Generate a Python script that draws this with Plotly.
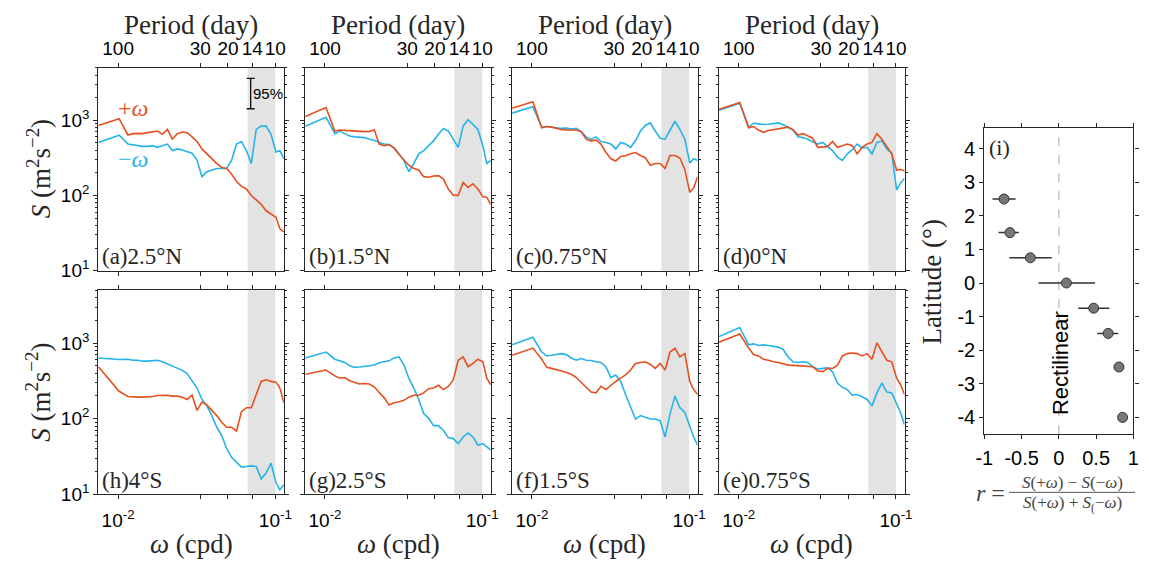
import plotly.graph_objects as go

W, H = 1149, 571

# ---------------- data ----------------
# frequency grid (cpd) shared by all spectra
FREQ = [0.00749, 0.01015, 0.01155, 0.01242, 0.01335, 0.01435, 0.01543, 0.01658, 0.01782,
        0.01916, 0.02059, 0.02213, 0.02380, 0.02558, 0.02749, 0.02955, 0.03178, 0.03415,
        0.03671, 0.03946, 0.04243, 0.04560, 0.04902, 0.05269, 0.05665, 0.06089, 0.06545,
        0.07035, 0.07562, 0.08129, 0.08738, 0.09393, 0.1010, 0.1069, 0.1133]

# S(+omega) (red) and S(-omega) (blue), m^2 s^-2
A_POS = [853, 1051, 638, 665, 671, 665, 685, 706, 720, 651, 756, 561, 665, 699, 685, 602, 523, 416,
         358, 308, 266, 236, 229, 193, 153, 132, 122, 100, 88.7, 76.4, 62.6, 56.6, 51.3, 36.2, 32.7]
A_NEG = [508, 632, 483, 469, 460, 450, 450, 460, 437, 460, 483, 396, 416, 404, 388, 365, 293, 178,
         207, 218, 229, 229, 229, 293, 483, 523, 396, 266, 756, 836, 836, 651, 376, 396, 308]
B_POS = [1127, 1476, 720, 742, 734, 727, 720, 706, 706, 713, 742, 483, 460, 473, 429, 351, 293, 253,
         229, 218, 178, 175, 182, 184, 165, 122, 101, 100, 149, 128, 143, 122, 96, 95, 76]
B_NEG = [836, 1094, 665, 720, 665, 620, 602, 589, 589, 561, 544, 508, 483, 478, 429, 358, 293, 207,
         266, 358, 396, 460, 533, 651, 780, 720, 561, 437, 836, 1020, 878, 756, 460, 266, 293]
C_POS = [1445, 1764, 795, 827, 811, 780, 756, 742, 749, 742, 706, 561, 533, 544, 483, 376, 308, 288,
         331, 337, 358, 373, 341, 318, 253, 266, 266, 229, 341, 341, 315, 222, 110, 126, 178]
C_NEG = [1245, 1520, 811, 827, 811, 787, 780, 787, 764, 780, 706, 602, 556, 602, 523, 508, 483, 416,
         508, 483, 437, 533, 720, 853, 923, 720, 578, 561, 756, 971, 756, 561, 271, 308, 293]
D_POS = [1403, 1730, 795, 827, 742, 692, 734, 756, 772, 795, 811, 749, 638, 665, 614, 578, 437, 437,
         446, 523, 437, 460, 483, 460, 358, 437, 483, 508, 665, 561, 446, 358, 218, 222, 213]
D_NEG = [1362, 1680, 811, 914, 896, 878, 887, 896, 923, 870, 795, 742, 602, 589, 561, 523, 483, 508,
         455, 396, 324, 293, 358, 404, 483, 429, 437, 358, 508, 533, 416, 365, 119, 146, 170]
H_POS = [488, 231, 197, 193, 193, 193, 193, 197, 203, 205, 205, 199, 199, 193, 180, 205, 129, 166,
         152, 129, 110, 89.7, 77.1, 77.1, 68.5, 124, 140, 140, 213, 312, 327, 312, 305, 255, 163]
H_NEG = [638, 608, 614, 595, 595, 578, 578, 584, 595, 567, 533, 493, 464, 437, 396, 318, 255, 180,
         148, 110, 77.1, 60.1, 40.4, 30.8, 26.3, 22.9, 23.3, 23.8, 23.3, 16.0, 19.1, 25.8, 14.2, 11.5, 13.4]
G_POS = [388, 441, 369, 344, 351, 318, 302, 288, 293, 288, 263, 226, 189, 152, 163, 168, 175, 193,
         205, 205, 220, 250, 255, 277, 243, 268, 327, 595, 658, 488, 539, 614, 567, 344, 282]
G_NEG = [638, 764, 614, 578, 556, 503, 478, 483, 498, 503, 513, 550, 567, 584, 638, 658, 513, 344,
         255, 180, 117, 102, 81.1, 81.1, 69.8, 56.2, 54.6, 46.9, 57.4, 64.6, 57.4, 44.6, 46.9, 42.5, 38.5]
F_POS = [692, 861, 614, 478, 464, 450, 429, 408, 388, 351, 305, 268, 226, 220, 268, 243, 277, 312,
         344, 380, 441, 539, 556, 567, 523, 464, 539, 441, 764, 861, 658, 727, 312, 243, 209]
F_NEG = [951, 1197, 764, 678, 692, 706, 727, 706, 638, 595, 626, 595, 589, 567, 556, 488, 351, 380,
         312, 209, 143, 99.0, 110, 104, 99.0, 99.0, 94.3, 57.4, 115, 199, 140, 121, 81.1, 57.4, 44.6]
E_POS = [1030, 1322, 861, 706, 678, 614, 595, 567, 556, 528, 513, 508, 503, 493, 498, 488, 429, 420,
         464, 464, 513, 678, 727, 742, 727, 678, 727, 614, 1010, 764, 595, 567, 344, 282, 209]
E_NEG = [1221, 1614, 951, 980, 933, 951, 933, 905, 887, 827, 658, 567, 556, 567, 556, 488, 455, 464,
         473, 420, 296, 261, 243, 205, 209, 195, 180, 148, 220, 296, 226, 220, 155, 121, 83.5]

# panel order: top row a-d, bottom row h, g, f, e
PANEL_LABELS = ["(a)2.5°N", "(b)1.5°N", "(c)0.75°N", "(d)0°N",
                "(h)4°S", "(g)2.5°S", "(f)1.5°S", "(e)0.75°S"]
PANEL_POS = [A_POS, B_POS, C_POS, D_POS, H_POS, G_POS, F_POS, E_POS]
PANEL_NEG = [A_NEG, B_NEG, C_NEG, D_NEG, H_NEG, G_NEG, F_NEG, E_NEG]

PERIOD_DAYS = [100, 30, 20, 14, 10]
PERIOD_LABELS = ["100", "30", "20", "14", "10"]
BAND_PERIODS = [15, 10]          # shaded band (days)
CI_FREQ, CI_TOP, CI_BOTTOM = 0.0697, 3606, 1425   # 95% confidence bar

# panel (i)
LATS = [2.5, 1.5, 0.75, 0, -0.75, -1.5, -2.5, -4]
R_VAL = [-0.736, -0.656, -0.383, 0.101, 0.467, 0.661, 0.806, 0.855]
R_LO = [-0.89, -0.81, -0.665, -0.273, 0.26, 0.515, 0.753, 0.806]
R_HI = [-0.58, -0.537, -0.097, 0.485, 0.678, 0.797, 0.868, 0.916]

# ---------------- style ----------------
RED = "#E5501E"
BLUE = "#25B3E8"
AX = "#262626"
SERIF = "Liberation Serif"
SANS = "Liberation Sans"


def px(x):
    return x / W


def py(y):
    return 1 - y / H


PANEL_LEFT = [90.7, 300.7, 510.7, 720.7]
PANEL_W = 188.3
ROW_TOP = [69, 296]
ROW_BOT = [276, 504]

fig = go.Figure()
layout = dict(width=W, height=H, margin=dict(l=0, r=0, t=0, b=0), showlegend=False,
              paper_bgcolor="white", plot_bgcolor="white",
              font=dict(family=SANS, color="black", size=19))
annotations = []
shapes = []

period_freq = [1.0 / p for p in PERIOD_DAYS]
minor_vals = [m * 10 ** e for e in (1, 2, 3) for m in range(2, 10)]

for k in range(8):
    row, col = divmod(k, 4)
    i = k + 1
    xn = "x" if i == 1 else f"x{i}"
    yn = "y" if i == 1 else f"y{i}"
    left = PANEL_LEFT[col]
    fig.add_trace(go.Scatter(x=[1.0 / BAND_PERIODS[0], 1.0 / BAND_PERIODS[1], 1.0 / BAND_PERIODS[1],
                                1.0 / BAND_PERIODS[0], 1.0 / BAND_PERIODS[0]],
                             y=[1, 1, 1e5, 1e5, 1], fill="toself", fillcolor="#E3E3E3",
                             line=dict(width=0), mode="lines", xaxis=xn, yaxis=yn,
                             hoverinfo="skip"))
    fig.add_trace(go.Scatter(x=FREQ, y=PANEL_NEG[k], mode="lines", line=dict(color=BLUE, width=1.6),
                             xaxis=xn, yaxis=yn))
    fig.add_trace(go.Scatter(x=FREQ, y=PANEL_POS[k], mode="lines", line=dict(color=RED, width=1.6),
                             xaxis=xn, yaxis=yn))
    if row == 0:
        ttext = PERIOD_LABELS
        side = "top"
        standoff = 0
    else:
        ttext = ["10<sup>-2</sup>", "", "", "", "10<sup>-1</sup>"]
        side = "bottom"
        standoff = 5
    layout["xaxis" if i == 1 else f"xaxis{i}"] = dict(
        type="log", range=[-2.1255, -0.9456], domain=[px(left), px(left + PANEL_W)],
        anchor=yn, side=side, tickmode="array", tickvals=period_freq, ticktext=ttext,
        ticks="outside", ticklen=4, tickwidth=1, tickcolor=AX, mirror="ticks", showline=True,
        linecolor=AX, linewidth=1.3, showgrid=False, zeroline=False, tickangle=0,
        ticklabelstandoff=standoff,
        tickfont=dict(family=SANS, size=19, color="black"))
    layout["yaxis" if i == 1 else f"yaxis{i}"] = dict(
        type="log", range=[1, 3.7], domain=[py(ROW_BOT[row]), py(ROW_TOP[row])], anchor=xn,
        tickmode="array", tickvals=[10, 100, 1000],
        ticktext=["10<sup>1</sup>", "10<sup>2</sup>", "10<sup>3</sup>"],
        showticklabels=(col == 0), ticks="outside", ticklen=4, tickwidth=1, tickcolor=AX,
        minor=dict(ticks="outside", ticklen=2, tickcolor=AX, tickmode="array", tickvals=minor_vals),
        mirror="ticks", showline=True, linecolor=AX, linewidth=1.3, showgrid=False, zeroline=False,
        tickfont=dict(family=SANS, size=19, color="black"))
    cx = left + PANEL_W / 2
    annotations.append(dict(text=PANEL_LABELS[k], x=px(left + 2), y=py(ROW_BOT[row] - 14),
                            xref="paper", yref="paper", xanchor="left", yanchor="middle",
                            showarrow=False, font=dict(family=SERIF, size=23, color=AX)))
    if row == 0:
        annotations.append(dict(text="Period (day)", x=px(cx), y=py(26), xref="paper", yref="paper",
                                xanchor="center", yanchor="middle", showarrow=False,
                                font=dict(family=SERIF, size=27, color=AX)))
    else:
        annotations.append(dict(text="<i>ω</i> (cpd)", x=px(cx), y=py(555), xref="paper", yref="paper",
                                xanchor="center", yanchor="middle", showarrow=False,
                                font=dict(family=SERIF, size=27, color=AX)))

# 95% confidence bar in panel (a)
ci_center = (CI_TOP * CI_BOTTOM) ** 0.5
fig.add_trace(go.Scatter(x=[CI_FREQ], y=[ci_center], mode="markers", marker=dict(size=1, opacity=0),
                         error_y=dict(type="data", symmetric=False, array=[CI_TOP - ci_center],
                                      arrayminus=[ci_center - CI_BOTTOM], color="#111",
                                      thickness=1.3, width=4),
                         xaxis="x", yaxis="y"))
annotations.append(dict(text="95%", x=px(246), y=py(95), xref="paper", yref="paper",
                        xanchor="left", yanchor="middle", showarrow=False,
                        font=dict(family=SANS, size=15, color="black")))
annotations.append(dict(text="+<i>ω</i>", x=px(126), y=py(110), xref="paper", yref="paper",
                        xanchor="center", yanchor="middle", showarrow=False,
                        font=dict(family=SERIF, size=24, color=RED)))
annotations.append(dict(text="−<i>ω</i>", x=px(126), y=py(162), xref="paper", yref="paper",
                        xanchor="center", yanchor="middle", showarrow=False,
                        font=dict(family=SERIF, size=24, color=BLUE)))

# S axis titles
for yc in (172, 400):
    annotations.append(dict(text="<i>S</i> (m<sup>2</sup>s<sup>−2</sup>)", x=px(30), y=py(yc),
                            xref="paper", yref="paper", xanchor="center", yanchor="middle",
                            textangle=-90, showarrow=False,
                            font=dict(family=SERIF, size=27, color=AX)))

# ---------------- panel (i) ----------------
fig.add_trace(go.Scatter(x=R_VAL, y=LATS, mode="markers",
                         marker=dict(size=10, color="#777777", line=dict(color="#333333", width=1)),
                         error_x=dict(type="data", symmetric=False,
                                      array=[h - r for h, r in zip(R_HI, R_VAL)],
                                      arrayminus=[r - lo for r, lo in zip(R_VAL, R_LO)],
                                      color="#333333", thickness=1.5, width=0),
                         xaxis="x9", yaxis="y9"))
layout["xaxis9"] = dict(range=[-1, 1], domain=[px(990), px(1141.3)], anchor="y9",
                        tickmode="array", tickvals=[-1, -0.5, 0, 0.5, 1],
                        ticktext=["-1", "-0.5", "0", "0.5", "1"], ticks="outside", ticklen=4,
                        tickcolor=AX, mirror="ticks", showline=True, linecolor=AX, linewidth=1.3,
                        showgrid=False, zeroline=False, tickangle=0, ticklabelstandoff=2,
                        tickfont=dict(family=SANS, size=20, color="black"))
layout["yaxis9"] = dict(range=[-4.5, 4.6], domain=[py(442.7), py(131)], anchor="x9",
                        tickmode="array", tickvals=[4, 3, 2, 1, 0, -1, -2, -3, -4],
                        ticktext=["4", "3", "2", "1", "0", "-1", "-2", "-3", "-4"],
                        ticks="outside", ticklen=4, tickcolor=AX, mirror="ticks", showline=True,
                        linecolor=AX, linewidth=1.3, showgrid=False, zeroline=False,
                        tickfont=dict(family=SANS, size=20, color="black"))
shapes.append(dict(type="line", xref="x9", yref="y9 domain", x0=0, x1=0, y0=0, y1=1,
                   line=dict(color="#A8A8A8", width=1, dash="dash"), layer="below"))
annotations.append(dict(text="(i)", x=px(993), y=py(136), xref="paper", yref="paper",
                        xanchor="left", yanchor="top", showarrow=False,
                        font=dict(family=SERIF, size=22, color=AX)))
annotations.append(dict(text="Rectilinear", x=px(1068), y=py(370), xref="paper", yref="paper",
                        xanchor="center", yanchor="middle", textangle=-90, showarrow=False,
                        font=dict(family=SANS, size=22, color="black")))
annotations.append(dict(text="Latitude (°)", x=px(937), y=py(287), xref="paper", yref="paper",
                        xanchor="center", yanchor="middle", textangle=-90, showarrow=False,
                        font=dict(family=SERIF, size=27, color=AX)))
# r = fraction label
annotations.append(dict(text="<i>r</i> =", x=px(1013), y=py(503), xref="paper", yref="paper",
                        xanchor="right", yanchor="middle", showarrow=False,
                        font=dict(family=SERIF, size=24, color="#444444")))
annotations.append(dict(text="<i>S</i>(+<i>ω</i>) − <i>S</i>(−<i>ω</i>)", x=px(1079), y=py(492),
                        xref="paper", yref="paper", xanchor="center", yanchor="middle",
                        showarrow=False, font=dict(family=SERIF, size=17, color="#444444")))
annotations.append(dict(text="<i>S</i>(+<i>ω</i>) + <i>S</i><sub>(</sub>−<i>ω</i>)", x=px(1079),
                        y=py(514), xref="paper", yref="paper", xanchor="center", yanchor="middle",
                        showarrow=False, font=dict(family=SERIF, size=17, color="#444444")))
shapes.append(dict(type="line", xref="paper", yref="paper", x0=px(1015), x1=px(1143),
                   y0=py(502), y1=py(502), line=dict(color="#555555", width=1)))

layout["annotations"] = annotations
layout["shapes"] = shapes
fig.update_layout(**layout)
fig.write_html("out.html")
